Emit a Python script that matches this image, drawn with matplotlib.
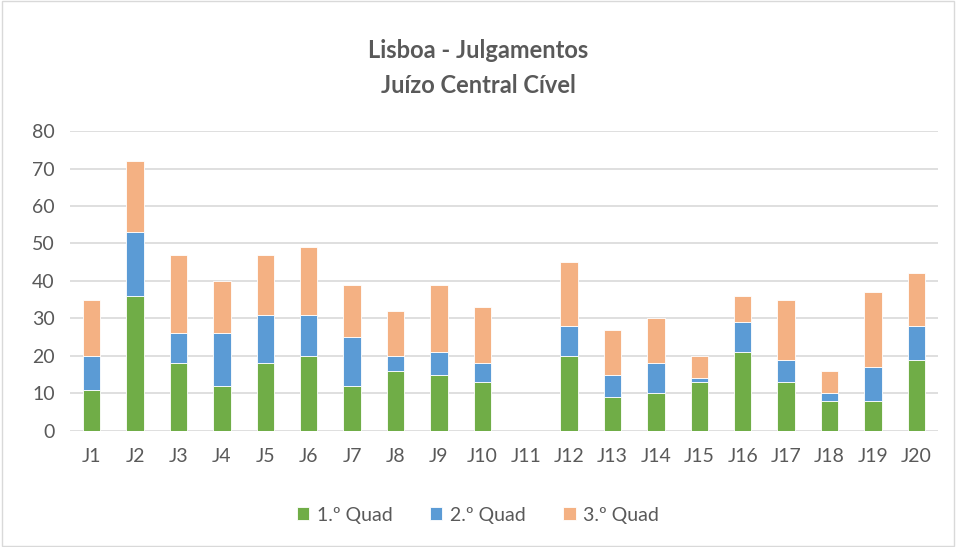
import numpy as np
import matplotlib.pyplot as plt
from matplotlib.patches import Rectangle

plt.rcParams['font.family'] = ['Lato', 'DejaVu Sans']

juizos = ['J1', 'J2', 'J3', 'J4', 'J5', 'J6', 'J7', 'J8', 'J9', 'J10',
          'J11', 'J12', 'J13', 'J14', 'J15', 'J16', 'J17', 'J18', 'J19', 'J20']
quad1 = [11, 36, 18, 12, 18, 20, 12, 16, 15, 13, 0, 20, 9, 10, 13, 21, 13, 8, 8, 19]
quad2 = [9, 17, 8, 14, 13, 11, 13, 4, 6, 5, 0, 8, 6, 8, 1, 8, 6, 2, 9, 9]
quad3 = [15, 19, 21, 14, 16, 18, 14, 12, 18, 15, 0, 17, 12, 12, 6, 7, 16, 6, 20, 14]

txt = '#595959'
fig = plt.figure(figsize=(9.56, 5.47), dpi=100)
ax = fig.add_axes([0.0732, 0.2121, 0.9079, 0.5484])

x = np.arange(len(juizos))
q1 = np.array(quad1)
q2 = np.array(quad2)
q3 = np.array(quad3)
w = 0.4
ax.bar(x, q1, w, color='#70AD47', edgecolor='white', linewidth=0.6, label='1.º Quad', zorder=3)
ax.bar(x, q2, w, bottom=q1, color='#5B9BD5', edgecolor='white', linewidth=0.6, label='2.º Quad', zorder=3)
ax.bar(x, q3, w, bottom=q1 + q2, color='#F4B183', edgecolor='white', linewidth=0.6, label='3.º Quad', zorder=3)

ax.set_xlim(-0.5, len(juizos) - 0.5)
ax.set_ylim(0, 80)
ax.set_yticks(range(0, 81, 10))
ax.set_xticks(x)
ax.set_xticklabels(juizos)
ax.yaxis.grid(True, color='#D9D9D9', linewidth=1.2, zorder=0)
for s in ax.spines.values():
    s.set_visible(False)
ax.tick_params(length=0, labelsize=14, colors=txt, pad=12)
ax.tick_params(axis='y', pad=11)

fig.text(0.5, 0.908, 'Lisboa - Julgamentos', ha='center', va='center',
         fontsize=17, fontweight='bold', color=txt)
fig.text(0.5, 0.844, 'Juízo Central Cível', ha='center', va='center',
         fontsize=17, fontweight='bold', color=txt)

fig.legend(loc='center', bbox_to_anchor=(0.5, 0.058), ncol=3, frameon=False,
           fontsize=14, labelcolor=txt, handlelength=0.65, handleheight=0.65,
           columnspacing=1.9, handletextpad=0.4)

fig.patches.append(Rectangle((0.002, 0.002), 0.996, 0.996, transform=fig.transFigure,
                             fill=False, edgecolor='#D9D9D9', linewidth=1))

fig.savefig('out.png', dpi=100)
